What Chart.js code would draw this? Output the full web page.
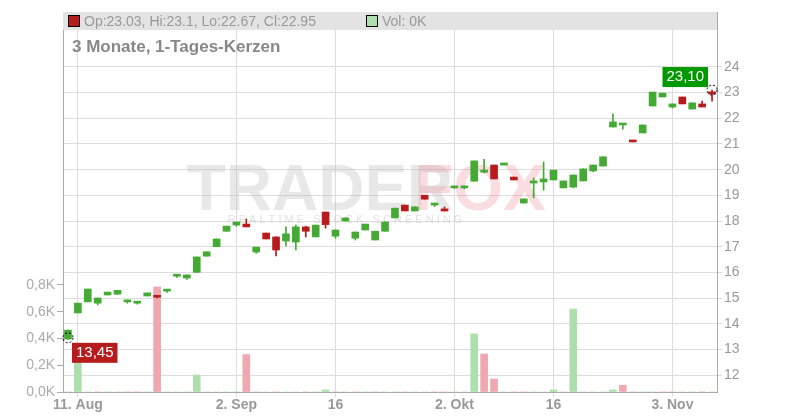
<!DOCTYPE html>
<html>
<head>
<meta charset="utf-8">
<script src="https://cdn.jsdelivr.net/npm/chart.js"></script>
<style>
  html, body { margin: 0; padding: 0; background: #fff; }
  #wrap { width: 800px; height: 420px; }
</style>
</head>
<body>
<div id="wrap"><canvas id="kerzen"></canvas></div>
<script>
// 8. Aug bis 7. Nov, Handelstage
const dates = ['8.8','11.8','12.8','13.8','14.8','15.8','18.8','19.8','20.8','21.8','22.8','25.8','26.8','27.8','28.8','29.8',
  '1.9','2.9','3.9','4.9','5.9','8.9','9.9','10.9','11.9','12.9','15.9','16.9','17.9','18.9','19.9','22.9','23.9','24.9','25.9','26.9','29.9','30.9',
  '1.10','2.10','3.10','6.10','7.10','8.10','9.10','10.10','13.10','14.10','15.10','16.10','17.10','20.10','21.10','22.10','23.10','24.10','27.10','28.10','29.10','30.10','31.10',
  '3.11','4.11','5.11','6.11','7.11'];
const tickLabels = {1: '11. Aug', 17: '2. Sep', 27: '16', 39: '2. Okt', 49: '16', 61: '3. Nov'};

const open  = [13.40,14.42,14.85,14.80,15.12,15.15,14.85,14.80,15.08,15.07,15.27,15.85,15.78,16.00,16.63,17.00,17.60,17.84,17.88,16.79,17.53,17.38,17.22,17.18,17.77,17.38,18.35,17.41,18.00,17.33,17.65,17.26,17.60,18.12,18.62,18.39,19.00,18.62,18.47,19.29,19.29,19.55,19.90,20.18,20.18,19.71,18.70,19.48,19.52,19.60,19.29,19.32,19.56,19.95,20.14,21.66,21.74,21.12,21.43,22.48,22.83,22.44,22.83,22.36,22.56,23.03];
const high  = [13.75,14.80,15.35,15.00,15.23,15.30,14.92,14.85,15.20,15.07,15.30,15.88,15.90,16.60,16.80,17.30,17.80,17.96,18.08,16.98,17.53,17.38,17.77,17.84,17.80,17.84,18.35,17.65,18.12,17.57,17.88,17.60,17.96,18.50,18.62,18.55,19.00,18.70,18.55,19.32,19.36,20.34,20.40,20.18,20.26,19.71,18.86,19.67,20.30,19.98,19.56,19.79,20.03,20.18,20.50,22.17,21.78,21.12,21.74,23.02,22.98,22.56,22.83,22.60,22.67,23.10];
const low   = [13.40,14.42,14.85,14.73,15.12,15.15,14.80,14.76,15.08,15.00,15.22,15.80,15.72,16.00,16.63,17.00,17.60,17.80,17.77,16.74,17.30,16.64,17.03,16.87,17.38,17.38,17.72,17.33,18.00,17.26,17.65,17.26,17.60,18.12,18.39,18.39,18.85,18.56,18.39,19.27,19.25,19.55,19.87,19.64,20.18,19.60,18.70,18.90,19.20,19.60,19.29,19.29,19.56,19.92,20.14,21.66,21.58,21.08,21.43,22.48,22.83,22.40,22.56,22.36,22.44,22.67];
const close = [13.75,14.80,15.35,15.00,15.23,15.30,14.92,14.85,15.20,15.03,15.30,15.88,15.90,16.60,16.80,17.30,17.80,17.96,17.77,16.98,17.30,16.87,17.50,17.77,17.60,17.84,17.86,17.65,18.12,17.57,17.88,17.60,17.96,18.50,18.39,18.55,18.85,18.70,18.39,19.32,19.36,20.34,19.98,19.64,20.26,19.60,18.86,19.56,19.64,19.98,19.56,19.79,20.03,20.18,20.50,21.86,21.78,21.08,21.74,23.02,22.98,22.56,22.56,22.60,22.44,22.95];
// Volumen in Tausend
const volume = [0,0.35,0,0,0,0,0,0,0,0.785,0,0,0,0.127,0,0,0,0,0.28,0,0,0,0,0,0,0,0.015,0,0,0,0,0,0,0,0,0,0,0,0,0,0,0.434,0.284,0.097,0,0,0,0,0,0.015,0,0.62,0,0,0,0.015,0.05,0,0,0,0,0,0,0,0,0];
const priceTicks = [12,13,14,15,16,17,18,19,20,21,22,23,24];
const volTicks = [0,0.2,0.4,0.6,0.8];

const GREEN = '#44aa33', RED = '#b71c1c';
const up = open.map((o, i) => close[i] >= o);
const volUp = close.map((c, i) => i === 0 || c >= close[i - 1]);
const fmt = v => v.toFixed(2).replace('.', ',');

const overlay = {
  id: 'overlay',
  beforeDatasetsDraw(chart) {
    const {ctx} = chart;
    ctx.save();
    ctx.font = 'bold 64px "Liberation Sans", Arial, sans-serif';
    ctx.textAlign = 'center'; ctx.textBaseline = 'middle';
    ctx.fillStyle = 'rgba(190,190,190,0.35)';
    ctx.fillText('TRADER', 320, 192);
    ctx.fillStyle = 'rgba(235,120,130,0.25)';
    ctx.fillText('FOX', 480, 192);
    ctx.font = '11px "Liberation Sans", Arial, sans-serif';
    ctx.fillStyle = 'rgba(180,180,180,0.4)';
    ctx.fillText('R E A L T I M E   S T O C K   S C R E E N I N G', 345, 220);
    ctx.restore();
  },
  afterDraw(chart) {
    const {ctx, chartArea: a, scales} = chart;
    const x = scales.x, y = scales.y;
    const n = close.length - 1;
    ctx.save();
    // Kopfzeile
    ctx.fillStyle = '#e3e3e3';
    ctx.fillRect(a.left, a.top, a.right - a.left, 18);
    ctx.font = '14px "Liberation Sans", Arial, sans-serif';
    ctx.textBaseline = 'middle'; ctx.textAlign = 'left';
    ctx.fillStyle = up[n] ? GREEN : RED; ctx.strokeStyle = '#000'; ctx.lineWidth = 1;
    ctx.fillRect(69, a.top + 4, 10, 10); ctx.strokeRect(68.5, a.top + 3.5, 11, 11);
    ctx.fillStyle = '#999';
    ctx.fillText('Op:' + open[n] + ', Hi:' + high[n] + ', Lo:' + low[n] + ', Cl:' + close[n], 84, a.top + 10);
    ctx.fillStyle = '#addfad';
    ctx.fillRect(367, a.top + 4, 10, 10); ctx.strokeRect(366.5, a.top + 3.5, 11, 11);
    ctx.fillStyle = '#999';
    ctx.fillText('Vol: ' + volume[n] + 'K', 382, a.top + 10);
    ctx.font = 'bold 17px "Liberation Sans", Arial, sans-serif';
    ctx.fillStyle = '#888';
    ctx.fillText('3 Monate, 1-Tages-Kerzen', 72, 47);
    // Start- und Endwert
    const marks = [[0, 13.45, RED, 1], [n, 23.10, '#009900', -1]];
    marks.forEach(([i, v, col, dir]) => {
      const px = x.getPixelForValue(i), py = y.getPixelForValue(v);
      ctx.setLineDash([2, 2]); ctx.strokeStyle = '#000';
      ctx.beginPath(); ctx.arc(px, py, 5, 0, Math.PI * 2); ctx.stroke();
      ctx.setLineDash([]);
      ctx.font = '15px "Liberation Sans", Arial, sans-serif';
      const t = fmt(v), w = ctx.measureText(t).width + 8;
      const bx = dir > 0 ? px + 4 : px - w - 4;
      const by = dir > 0 ? py + 5 : py - 23;
      ctx.fillStyle = col; ctx.fillRect(bx, by, w, 20);
      ctx.fillStyle = '#fff'; ctx.textAlign = 'left';
      ctx.fillText(t, bx + 4, by + 10);
    });
    ctx.restore();
  }
};

new Chart(document.getElementById('kerzen'), {
  type: 'bar',
  data: {
    labels: dates,
    datasets: [
      {
        label: 'Vol', yAxisID: 'yVol', data: volume, grouped: false, order: 3,
        backgroundColor: volUp.map(u => u ? '#addfad' : '#f0a8b0'), barThickness: 7
      },
      {
        label: 'Docht', yAxisID: 'y', grouped: false, order: 2,
        data: low.map((l, i) => [l, high[i]]),
        backgroundColor: up.map(u => u ? GREEN : RED), barThickness: 1
      },
      {
        label: 'Kerze', yAxisID: 'y', grouped: false, order: 1, minBarLength: 2,
        data: open.map((o, i) => [o, close[i]]),
        backgroundColor: up.map(u => u ? GREEN : RED), barThickness: 7
      }
    ]
  },
  options: {
    responsive: true, maintainAspectRatio: false, animation: false,
    layout: {padding: {top: 12}},
    plugins: {legend: {display: false}, tooltip: {enabled: false}},
    scales: {
      x: {
        offset: true,
        afterFit: s => { s.height = 28; },
        grid: {
          offset: false, drawTicks: true, tickLength: 5,
          color: c => tickLabels[c.index] ? '#dcdcdc' : 'rgba(0,0,0,0)'
        },
        border: {color: '#aaa'},
        ticks: {
          autoSkip: false, maxRotation: 0, padding: 0,
          color: '#999', font: {size: 14, weight: 'bold', family: '"Liberation Sans", Arial'},
          callback: (v, i) => tickLabels[i] || ''
        }
      },
      y: {
        position: 'right', min: 11.34, max: 26.14,
        afterFit: s => { s.width = 83; },
        afterBuildTicks: s => { s.ticks = priceTicks.map(v => ({value: v})); },
        grid: {color: '#dcdcdc', tickLength: 5},
        border: {color: '#aaa'},
        ticks: {color: '#999', font: {size: 14, family: '"Liberation Sans", Arial'}, padding: 2}
      },
      yVol: {
        position: 'left', min: 0, max: 2.84,
        afterFit: s => { s.width = 63; },
        afterBuildTicks: s => { s.ticks = volTicks.map(v => ({value: v})); },
        grid: {drawOnChartArea: false, tickLength: 6, color: '#aaa'},
        border: {color: '#aaa'},
        ticks: {
          color: '#aaa', font: {size: 14, family: '"Liberation Sans", Arial'}, padding: 2,
          callback: v => v.toFixed(1).replace('.', ',') + 'K'
        }
      }
    }
  },
  plugins: [overlay]
});
</script>
</body>
</html>
